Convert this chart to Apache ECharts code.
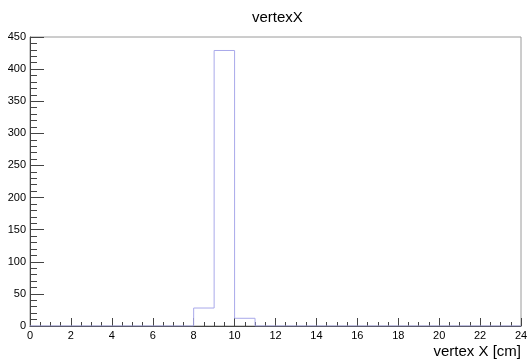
<!DOCTYPE html>
<html>
<head>
<meta charset="utf-8">
<script src="https://cdn.jsdelivr.net/npm/echarts@6/dist/echarts.min.js"></script>
<style>
  html, body { margin: 0; padding: 0; background: #fff; }
  #chart { width: 531px; height: 363px; }
</style>
</head>
<body>
<div id="chart"></div>
<script>
// histogram: 24 bins of width 1 cm, from 0 to 24
const binEdges = [0, 1, 2, 3, 4, 5, 6, 7, 8, 9, 10, 11, 12, 13, 14, 15, 16, 17, 18, 19, 20, 21, 22, 23, 24];
const counts = [0, 0, 0, 0, 0, 0, 0, 0, 28, 429, 12, 0, 0, 0, 0, 0, 0, 0, 0, 0, 0, 0, 0, 0];

const font = "'Liberation Sans', Arial, sans-serif";

// step points: each bin edge holds the bin content until the next edge
const stepData = counts.map((c, i) => [binEdges[i], c]);
stepData.push([binEdges[binEdges.length - 1], 0]);

const chart = echarts.init(document.getElementById("chart"));
chart.setOption({
  animation: false,
  title: {
    text: "vertexX",
    left: 247,
    top: 5,
    textStyle: { fontFamily: font, fontSize: 15, fontWeight: "normal", color: "#000" },
  },
  grid: {
    left: 30,
    right: 10,
    top: 37,
    bottom: 37,
    show: true,
    borderColor: "#9a9a9a",
    borderWidth: 1,
  },
  xAxis: {
    type: "value",
    min: 0,
    max: 24,
    interval: 2,
    name: "vertex X [cm]",
    nameLocation: "end",
    nameGap: 0,
    nameTextStyle: {
      fontFamily: font,
      fontSize: 15,
      color: "#000",
      align: "right",
      verticalAlign: "top",
      padding: [18, 0, 0, 0],
    },
    axisLine: { lineStyle: { color: "#444", width: 1 } },
    axisTick: { show: true, inside: true, length: 8, lineStyle: { color: "#444" } },
    minorTick: { show: true, splitNumber: 4, length: 4, lineStyle: { color: "#444" } },
    axisLabel: { fontFamily: font, fontSize: 11, color: "#000", margin: 4 },
    splitLine: { show: false },
  },
  yAxis: {
    type: "value",
    min: 0,
    max: 450,
    interval: 50,
    axisLine: { show: true, lineStyle: { color: "#444", width: 1 } },
    axisTick: { show: true, inside: true, length: 14, lineStyle: { color: "#444" } },
    minorTick: { show: true, splitNumber: 5, length: 7, lineStyle: { color: "#444" } },
    axisLabel: { fontFamily: font, fontSize: 11, color: "#000", margin: 4 },
    splitLine: { show: false },
  },
  series: [
    {
      type: "line",
      step: "end",
      data: stepData,
      symbol: "none",
      lineStyle: { color: "#a9a9ea", width: 1 },
      clip: true,
    },
  ],
});
</script>
</body>
</html>
